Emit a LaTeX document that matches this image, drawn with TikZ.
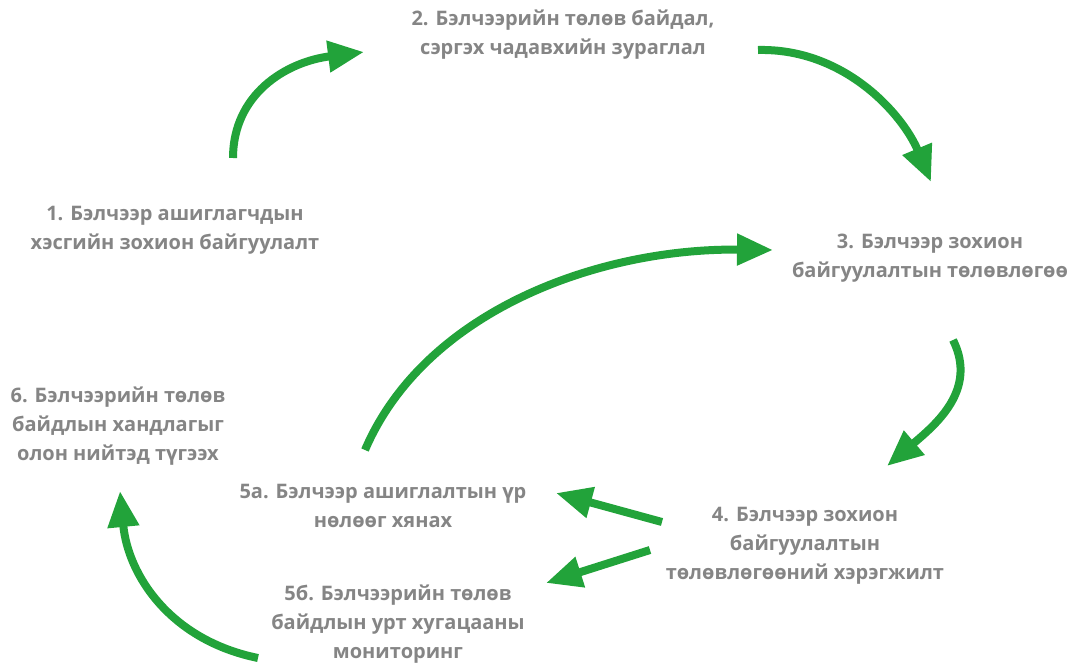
\documentclass[tikz,border=0pt]{standalone}
\usepackage{fontspec}
\setmainfont{Open Sans}
\usetikzlibrary{arrows.meta}
\definecolor{txtgray}{HTML}{858585}
\definecolor{arrgreen}{HTML}{22A33A}
\tikzset{
  lbl/.style={align=center, text=txtgray, inner sep=0pt, font=\fontsize{20}{29}\selectfont\bfseries},
  flow/.style={draw=arrgreen, line width=8pt, -{Triangle[length=36pt,width=30pt]}}
}
\begin{document}
\begin{tikzpicture}[x=1pt,y=-1pt]
\useasboundingbox (0,0) rectangle (1072,665);
\node[lbl] (n1) at (175,230) {1. Бэлчээр ашиглагчдын\\хэсгийн зохион байгуулалт};
\node[lbl] (n2) at (563,35) {2. Бэлчээрийн төлөв байдал,\\сэргэх чадавхийн зураглал};
\node[lbl] (n3) at (930,258) {3. Бэлчээр зохион\\байгуулалтын төлөвлөгөө};
\node[lbl] (n4) at (805,546) {4. Бэлчээр зохион\\байгуулалтын\\төлөвлөгөөний хэрэгжилт};
\node[lbl] (n5a) at (383,506) {5а. Бэлчээр ашиглалтын үр\\нөлөөг хянах};
\node[lbl] (n5b) at (398,624) {5б. Бэлчээрийн төлөв\\байдлын урт хугацааны\\мониторинг};
\node[lbl] (n6) at (118,426) {6. Бэлчээрийн төлөв\\байдлын хандлагыг\\олон нийтэд түгээх};
\coordinate (a1s) at (233,158); \coordinate (a1e) at (364,52);
\coordinate (a2s) at (758,50);  \coordinate (a2e) at (931,182);
\coordinate (a3s) at (953,340); \coordinate (a3e) at (887,466);
\coordinate (a4s) at (662,522); \coordinate (a4e) at (556,493);
\coordinate (a5s) at (650,550); \coordinate (a5e) at (546,583);
\coordinate (a6s) at (258,658); \coordinate (a6e) at (120,491);
\coordinate (a7s) at (365,450); \coordinate (a7e) at (773,250);
\draw[flow] (a1s) .. controls (233,95) and (285,62) .. (a1e);
\draw[flow] (a2s) .. controls (845,48) and (903,115) .. (a2e);
\draw[flow] (a3s) .. controls (978,390) and (935,425) .. (a3e);
\draw[flow] (a4s) -- (a4e);
\draw[flow] (a5s) -- (a5e);
\draw[flow] (a6s) .. controls (170,640) and (128,575) .. (a6e);
\draw[flow] (a7s) .. controls (425,310) and (600,248) .. (a7e);
\end{tikzpicture}
\end{document}
